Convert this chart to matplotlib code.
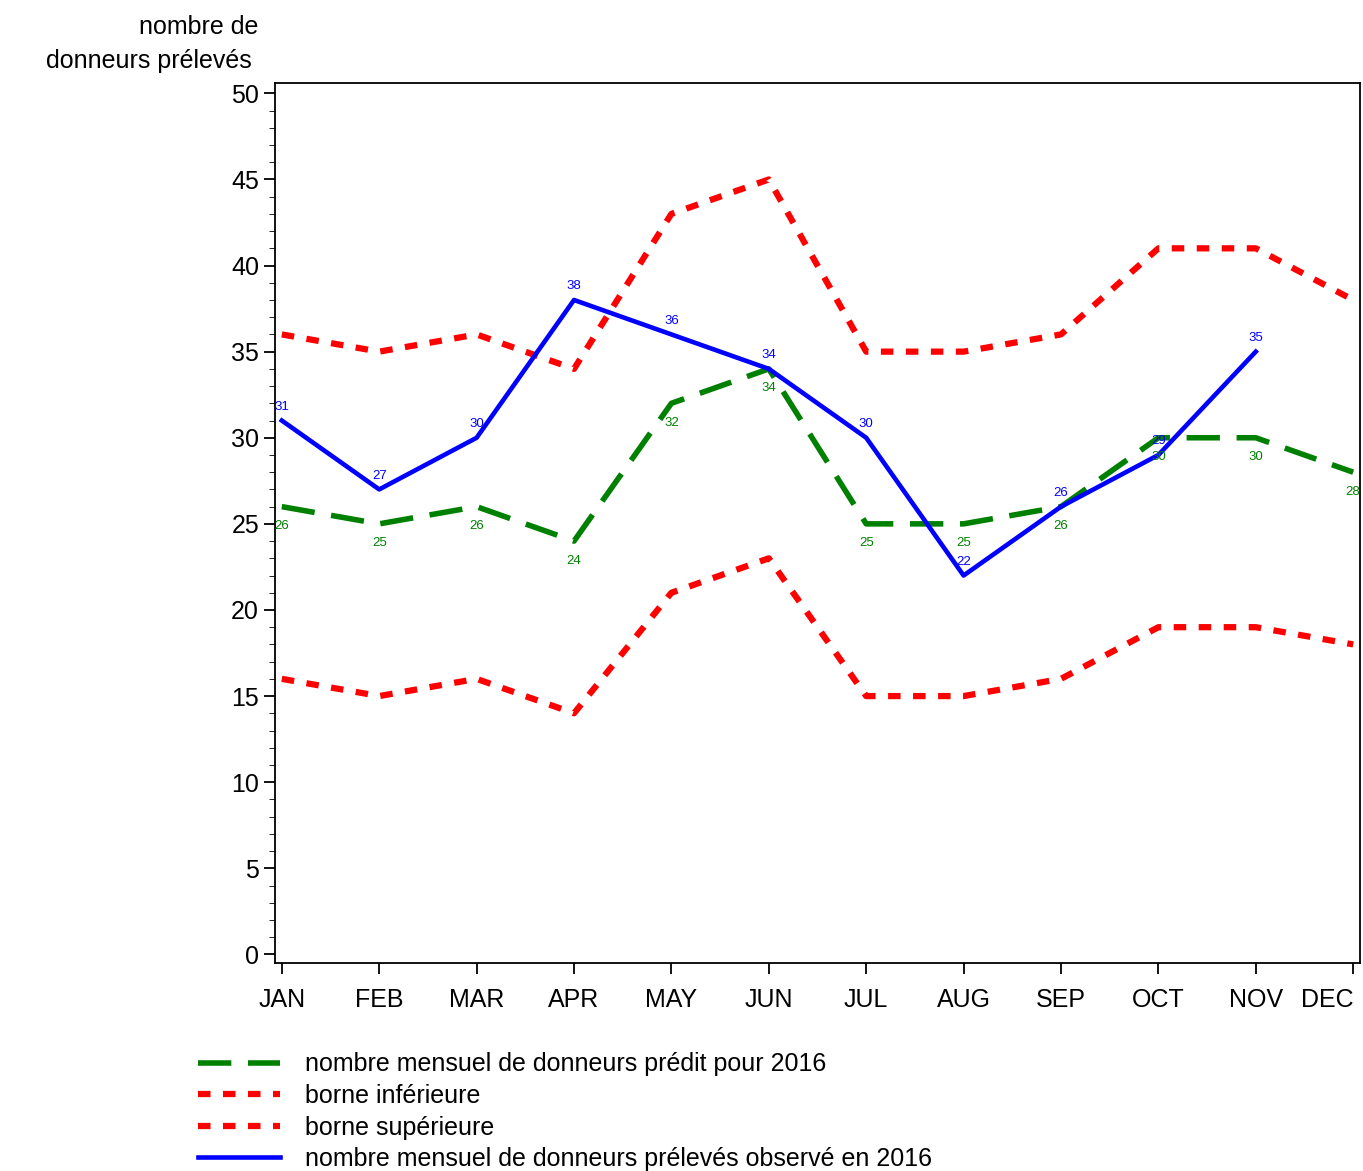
import matplotlib
matplotlib.use("Agg")
import matplotlib.pyplot as plt
import numpy as np

months = ["JAN", "FEB", "MAR", "APR", "MAY", "JUN", "JUL", "AUG", "SEP", "OCT", "NOV", "DEC"]
predit = [26, 25, 26, 24, 32, 34, 25, 25, 26, 30, 30, 28]
borne_inf = [16, 15, 16, 14, 21, 23, 15, 15, 16, 19, 19, 18]
borne_sup = [36, 35, 36, 34, 43, 45, 35, 35, 36, 41, 41, 38]
observe = [31, 27, 30, 38, 36, 34, 30, 22, 26, 29, 35]

plt.rcParams['font.family'] = ['Liberation Sans', 'DejaVu Sans']

fig = plt.figure(figsize=(13.63, 11.71), dpi=100)
ax = fig.add_axes([275/1363, 1-963/1171, 1085/1363, 880/1171])

x = np.arange(12)
xo = np.arange(len(observe))
ax.plot(x, predit, color="green", lw=4, dashes=(6, 3), label="nombre mensuel de donneurs prédit pour 2016")
ax.plot(x, borne_inf, color="red", lw=4.5, dashes=(2, 2), label="borne inférieure")
ax.plot(x, borne_sup, color="red", lw=4.5, dashes=(2, 2), label="borne supérieure")
ax.plot(xo, observe, color="blue", lw=3.3, label="nombre mensuel de donneurs prélevés observé en 2016")

for i, v in enumerate(predit):
    ax.annotate(str(v), (i, v), xytext=(0, -14), textcoords="offset points",
                ha="center", va="center", fontsize=9.5, color="green")
for i, v in enumerate(observe):
    ax.annotate(str(v), (i, v), xytext=(0, 10), textcoords="offset points",
                ha="center", va="center", fontsize=9.5, color="blue")

ax.set_xlim(-0.07, 11.07)
ax.set_ylim(-0.5, 50.6)
ax.set_xticks(x)
ax.set_xticklabels(months, fontsize=18)
ax.get_xticklabels()[-1].set_horizontalalignment("right")
ax.get_xticklabels()[-1].set_x(11.07)
ax.set_yticks(np.arange(0, 51, 5))
ax.set_yticks(np.arange(0, 51, 1), minor=True)
ax.tick_params(axis="y", labelsize=18, length=8, width=1.3)
ax.tick_params(axis="y", which="minor", length=4)
ax.tick_params(axis="x", length=8, width=1.3, pad=10)
for s in ax.spines.values():
    s.set_linewidth(1.3)

fig.text(258/1363, 1-27/1171, "nombre de", ha="right", va="center", fontsize=18)
fig.text(252/1363, 1-61/1171, "donneurs prélevés", ha="right", va="center", fontsize=18)

fig.legend(loc="upper left", bbox_to_anchor=(185/1363, 1-1040/1171), frameon=False,
           fontsize=18, handlelength=3.3, labelspacing=0.3, borderpad=0, handletextpad=1.0)

fig.savefig("out.png", dpi=100)
